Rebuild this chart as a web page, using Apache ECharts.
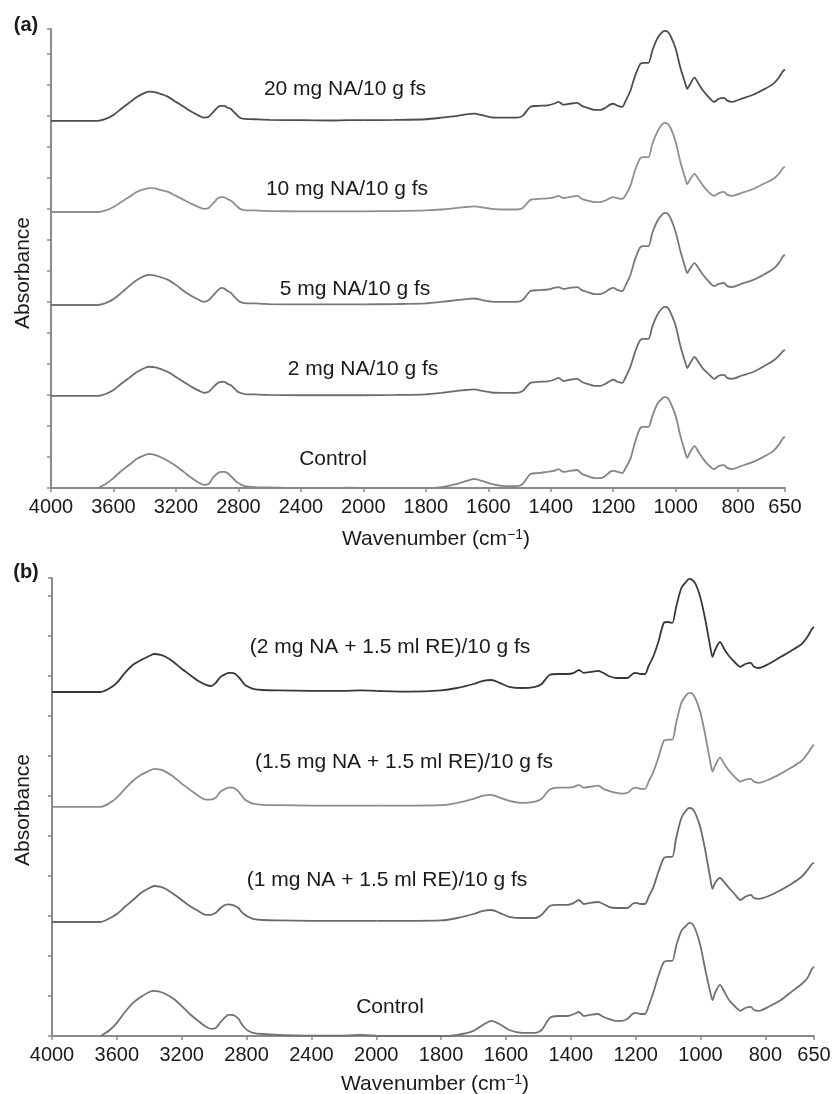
<!DOCTYPE html>
<html><head><meta charset="utf-8">
<script src="https://cdn.jsdelivr.net/npm/echarts@6/dist/echarts.min.js"></script>
<style>html,body{margin:0;padding:0;background:#fff}#c{width:833px;height:1094px}</style>
</head><body><div id="c"></div>
<script>
// ---- wavenumber grids (cm-1): high range 4000-2000, low range 2000-650 ----
const wnHigh = [4000,3700,3650,3600,3550,3500,3450,3400,3370,3330,3300,3250,3200,3150,3100,3050,3020,2990,2960,2930,2910,2890,2870,2850,2830,2810,2790,2760,2700,2600,2400,2200,2100,2000];
const wnLow = [2000,1900,1800,1750,1700,1670,1645,1620,1590,1550,1510,1490,1465,1440,1410,1390,1375,1360,1340,1315,1300,1283,1260,1241,1225,1210,1200,1185,1171,1160,1145,1130,1113,1100,1087,1075,1059,1045,1035,1025,1015,1000,985,970,963,955,940,925,912,895,877,862,845,835,820,790,752,720,688,670,656,650];

// ---- tick labels ----
const ticksHigh = [4000,3600,3200,2800,2400,2000];
const ticksLow = [2000,1800,1600,1400,1200,1000,800,650];

// ---- panel (a): absorbance (axis tick units) above each spectrum's own baseline ----
const namesA = ['20 mg NA/10 g fs','10 mg NA/10 g fs','5 mg NA/10 g fs','2 mg NA/10 g fs','Control'];
const offsetsA = [11.84, 8.90, 5.90, 2.97, 0];
const a20High = [0,0,0.06,0.19,0.39,0.58,0.77,0.90,0.94,0.92,0.87,0.77,0.61,0.45,0.29,0.16,0.10,0.13,0.29,0.45,0.48,0.48,0.42,0.39,0.29,0.19,0.10,0.06,0.05,0.03,0.02,0.01,0.02,0.02];
const a20Low = [0.02,0.03,0.05,0.10,0.16,0.21,0.23,0.18,0.11,0.10,0.10,0.16,0.45,0.48,0.50,0.55,0.61,0.52,0.55,0.58,0.48,0.42,0.35,0.35,0.42,0.52,0.55,0.48,0.45,0.65,0.97,1.45,1.84,1.87,1.87,2.26,2.65,2.84,2.90,2.87,2.71,2.32,1.71,1.23,1.03,1.16,1.39,1.16,0.97,0.77,0.61,0.71,0.74,0.65,0.61,0.71,0.84,1.00,1.19,1.39,1.61,1.65];
const a10High = [0,0,0.05,0.16,0.32,0.48,0.65,0.74,0.77,0.76,0.71,0.65,0.52,0.39,0.26,0.15,0.10,0.13,0.29,0.45,0.48,0.47,0.42,0.37,0.29,0.19,0.10,0.06,0.05,0.03,0.02,0.02,0.02,0.02];
const a10Low = [0.02,0.03,0.05,0.08,0.13,0.16,0.18,0.15,0.10,0.08,0.08,0.13,0.39,0.42,0.44,0.47,0.52,0.45,0.48,0.52,0.42,0.37,0.32,0.32,0.37,0.45,0.48,0.44,0.42,0.55,0.84,1.35,1.74,1.77,1.77,2.19,2.58,2.81,2.87,2.84,2.68,2.26,1.61,1.10,0.90,1.03,1.23,1.03,0.84,0.65,0.52,0.61,0.65,0.55,0.52,0.61,0.74,0.90,1.06,1.23,1.42,1.45];
const a5High = [0,0,0.06,0.19,0.39,0.61,0.81,0.94,0.97,0.95,0.90,0.81,0.65,0.45,0.29,0.16,0.10,0.16,0.32,0.48,0.55,0.53,0.45,0.40,0.29,0.19,0.10,0.06,0.05,0.03,0.02,0.02,0.02,0.02];
const a5Low = [0.02,0.03,0.05,0.10,0.16,0.19,0.21,0.16,0.11,0.10,0.10,0.16,0.45,0.48,0.50,0.55,0.58,0.52,0.55,0.58,0.48,0.42,0.35,0.35,0.42,0.52,0.55,0.48,0.45,0.65,0.97,1.48,1.87,1.90,1.90,2.32,2.71,2.90,2.97,2.94,2.77,2.35,1.74,1.23,1.03,1.16,1.35,1.16,0.97,0.77,0.61,0.68,0.71,0.61,0.58,0.68,0.81,0.97,1.16,1.35,1.58,1.61];
const a2High = [0,0,0.06,0.19,0.39,0.58,0.77,0.90,0.94,0.92,0.87,0.77,0.61,0.45,0.29,0.16,0.10,0.13,0.29,0.42,0.45,0.45,0.39,0.35,0.26,0.16,0.10,0.06,0.05,0.03,0.02,0.02,0.02,0.02];
const a2Low = [0.02,0.03,0.05,0.10,0.16,0.19,0.21,0.16,0.11,0.10,0.10,0.16,0.42,0.45,0.47,0.52,0.58,0.48,0.52,0.55,0.45,0.39,0.32,0.32,0.39,0.48,0.52,0.45,0.42,0.61,0.94,1.42,1.81,1.84,1.84,2.23,2.61,2.81,2.87,2.84,2.65,2.26,1.61,1.10,0.90,1.03,1.26,1.06,0.87,0.71,0.55,0.65,0.68,0.58,0.55,0.65,0.77,0.94,1.13,1.29,1.45,1.48];
const aCHigh = [null,0,0.13,0.32,0.55,0.74,0.94,1.06,1.10,1.06,1.00,0.87,0.71,0.52,0.32,0.16,0.10,0.13,0.35,0.48,0.52,0.52,0.48,0.39,0.29,0.19,0.13,0.06,0.03,0.02,0,0,0.01,0];
const aCLow = [0,0,0,0.03,0.13,0.23,0.29,0.23,0.13,0.06,0.06,0.13,0.45,0.48,0.52,0.55,0.61,0.52,0.55,0.58,0.45,0.39,0.32,0.32,0.39,0.52,0.55,0.52,0.48,0.65,0.94,1.48,1.94,1.97,1.97,2.32,2.71,2.87,2.94,2.90,2.71,2.32,1.68,1.16,0.97,1.13,1.35,1.13,0.94,0.74,0.61,0.71,0.74,0.65,0.61,0.71,0.84,1.00,1.19,1.39,1.61,1.65];

// ---- panel (b) ----
const namesB = ['(2 mg NA + 1.5 ml RE)/10 g fs','(1.5 mg NA + 1.5 ml RE)/10 g fs','(1 mg NA + 1.5 ml RE)/10 g fs','Control'];
const offsetsB = [8.60, 5.73, 2.85, 0];
const b2High = [0,0,0.08,0.23,0.48,0.68,0.80,0.90,0.95,0.93,0.88,0.75,0.58,0.43,0.28,0.18,0.15,0.23,0.38,0.45,0.48,0.48,0.45,0.38,0.28,0.18,0.13,0.08,0.05,0.04,0.03,0.03,0.04,0.03];
const b2Low = [0.03,0.01,0.04,0.10,0.20,0.28,0.30,0.23,0.13,0.10,0.13,0.20,0.43,0.45,0.45,0.48,0.55,0.48,0.50,0.53,0.48,0.40,0.35,0.35,0.35,0.45,0.48,0.45,0.45,0.65,0.90,1.25,1.73,1.75,1.73,2.13,2.60,2.75,2.83,2.80,2.70,2.35,1.80,1.13,0.88,1.05,1.25,1.05,0.90,0.75,0.63,0.70,0.73,0.63,0.60,0.70,0.88,1.03,1.20,1.38,1.58,1.63];
const b15High = [0,0,0.08,0.23,0.45,0.65,0.80,0.90,0.95,0.93,0.88,0.75,0.58,0.43,0.28,0.18,0.18,0.23,0.38,0.45,0.48,0.48,0.45,0.38,0.28,0.18,0.13,0.08,0.05,0.04,0.03,0.03,0.03,0.03];
const b15Low = [0.03,0.03,0.04,0.10,0.20,0.28,0.30,0.23,0.15,0.10,0.13,0.20,0.43,0.48,0.48,0.50,0.55,0.48,0.50,0.53,0.45,0.40,0.35,0.33,0.35,0.45,0.48,0.45,0.45,0.63,0.88,1.23,1.65,1.68,1.68,2.10,2.60,2.78,2.85,2.83,2.70,2.35,1.78,1.13,0.88,1.03,1.23,1.05,0.90,0.75,0.63,0.68,0.70,0.63,0.60,0.68,0.83,0.98,1.15,1.33,1.50,1.55];
const b1High = [0,0,0.08,0.20,0.38,0.55,0.73,0.85,0.90,0.88,0.83,0.70,0.55,0.40,0.28,0.18,0.18,0.23,0.35,0.43,0.44,0.43,0.40,0.35,0.25,0.18,0.13,0.08,0.05,0.04,0.03,0.03,0.03,0.03];
const b1Low = [0.03,0.03,0.04,0.10,0.20,0.28,0.30,0.23,0.13,0.10,0.10,0.18,0.40,0.43,0.43,0.48,0.55,0.45,0.48,0.50,0.45,0.38,0.35,0.35,0.35,0.45,0.48,0.45,0.45,0.63,0.88,1.25,1.60,1.63,1.63,2.10,2.60,2.78,2.85,2.83,2.70,2.35,1.78,1.10,0.83,0.98,1.10,0.98,0.85,0.70,0.55,0.63,0.68,0.60,0.58,0.65,0.80,0.95,1.13,1.30,1.45,1.48];
const bCHigh = [null,0,0.13,0.33,0.60,0.83,0.98,1.10,1.13,1.10,1.05,0.93,0.75,0.55,0.38,0.23,0.18,0.20,0.35,0.48,0.53,0.53,0.50,0.43,0.30,0.20,0.13,0.08,0.05,0.03,0.01,0.01,0.03,0.01];
const bCLow = [0,0,0,0.03,0.13,0.28,0.38,0.30,0.15,0.08,0.08,0.15,0.45,0.50,0.50,0.55,0.60,0.50,0.53,0.55,0.48,0.43,0.38,0.38,0.43,0.55,0.58,0.55,0.55,0.75,1.10,1.50,1.85,1.88,1.88,2.25,2.63,2.75,2.83,2.80,2.65,2.25,1.65,1.10,0.90,1.08,1.28,1.08,0.90,0.75,0.63,0.70,0.73,0.65,0.63,0.73,0.90,1.10,1.30,1.45,1.68,1.73];

const highA = [a20High, a10High, a5High, a2High, aCHigh];
const lowA = [a20Low, a10Low, a5Low, a2Low, aCLow];
const highB = [b2High, b15High, b1High, bCHigh];
const lowB = [b2Low, b15Low, b1Low, bCLow];

// ---- styling ----
const FONT = "'Liberation Sans', Arial, Helvetica, sans-serif";
const AXIS_COLOR = '#8a8a8a';
const TEXT_COLOR = '#1a1a1a';
const colorsA = ['#4d4d4d','#8f8f8f','#787878','#6c6c6c','#858585'];
const colorsB = ['#383838','#8c8c8c','#6a6a6a','#727272'];

const panels = [
  {left:51, top:29, height:459, unit:62.47, yMax:14.8, names:namesA, offs:offsetsA, high:highA, low:lowA, colors:colorsA},
  {left:52, top:578, height:458, unit:64.85, yMax:11.45, names:namesB, offs:offsetsB, high:highB, low:lowB, colors:colorsB}
];

const grid = [], xAxis = [], yAxis = [], series = [];
function pairs(wn, vals, off){
  const out = [];
  wn.forEach((w,i)=>{ if (vals[i] !== null) out.push([w, vals[i] + off]); });
  return out;
}
const plain = v => String(v);
panels.forEach((p, pi) => {
  const wHigh = 5 * p.unit, wLow = 6.75 * p.unit;
  const gi = pi * 2;
  grid.push({left:p.left, top:p.top, width:wHigh, height:p.height, containLabel:false, outerBoundsMode:'none'});
  grid.push({left:p.left + wHigh, top:p.top, width:wLow, height:p.height, containLabel:false, outerBoundsMode:'none'});
  const axLine = {show:true, onZero:false, lineStyle:{color:AXIS_COLOR, width:2}};
  const lbl = {fontSize:20, fontFamily:FONT, color:TEXT_COLOR, margin:9, formatter:plain};
  xAxis.push({gridIndex:gi, type:'value', inverse:true, min:2000, max:4000, interval:400,
    axisLine:axLine,
    axisTick:{show:true, length:4, customValues:ticksHigh, lineStyle:{color:AXIS_COLOR, width:1.5}},
    axisLabel:Object.assign({customValues:ticksHigh}, lbl), splitLine:{show:false}});
  xAxis.push({gridIndex:gi+1, type:'value', inverse:true, min:650, max:2000,
    axisLine:axLine,
    axisTick:{show:true, length:4, customValues:ticksLow, lineStyle:{color:AXIS_COLOR, width:1.5}},
    axisLabel:Object.assign({customValues:ticksLow.slice(1)}, lbl), splitLine:{show:false}});
  yAxis.push({gridIndex:gi, type:'value', min:0, max:p.yMax, interval:1,
    axisLine:{show:true, lineStyle:{color:AXIS_COLOR, width:2}},
    axisTick:{show:true, length:4, lineStyle:{color:AXIS_COLOR, width:1.5}},
    axisLabel:{show:false}, splitLine:{show:false}});
  yAxis.push({gridIndex:gi+1, type:'value', min:0, max:p.yMax, show:false, splitLine:{show:false}});
  p.names.forEach((nm, k) => {
    const common = {type:'line', name:nm, showSymbol:false, symbol:'none', smooth:0.25, silent:true,
      lineStyle:{color:p.colors[k], width:1.8}, itemStyle:{color:p.colors[k]}, z:3};
    series.push(Object.assign({xAxisIndex:gi, yAxisIndex:gi, data:pairs(wnHigh, p.high[k], p.offs[k])}, common));
    series.push(Object.assign({xAxisIndex:gi+1, yAxisIndex:gi+1, data:pairs(wnLow, p.low[k], p.offs[k])}, common));
  });
});

function txt(text, x, y, extra){
  return Object.assign({type:'text', x:x, y:y, silent:true,
    style:Object.assign({text:text, font:'21px ' + FONT, fill:TEXT_COLOR,
      align:'center', verticalAlign:'middle', textAlign:'center', textVerticalAlign:'middle'}, (extra||{}).style||{})},
    (extra||{}).el||{});
}
function wavTitle(x, y){
  return {type:'text', x:x, y:y, silent:true, style:{
    text:'Wavenumber (cm{sup|\u22121})', font:'21px ' + FONT, fill:TEXT_COLOR,
    align:'center', verticalAlign:'middle', textAlign:'center', textVerticalAlign:'middle',
    rich:{sup:{fontSize:14, fontFamily:FONT, fill:TEXT_COLOR, verticalAlign:'top', lineHeight:12}}
  }};
}
const labelPos = [
  [345,89],[347,189],[355,289],[363,369],[333,459],
  [390,647],[404,762],[387,880],[390,1007]
];
const allNames = namesA.concat(namesB);
const graphic = allNames.map((nm, i) => txt(nm, labelPos[i][0], labelPos[i][1]));
graphic.push(txt('(a)', 26, 25, {style:{font:'bold 20px ' + FONT}}));
graphic.push(txt('(b)', 26, 572, {style:{font:'bold 20px ' + FONT}}));
graphic.push(txt('Absorbance', 23, 273, {el:{rotation:Math.PI/2}}));
graphic.push(txt('Absorbance', 23, 810, {el:{rotation:Math.PI/2}}));
graphic.push(wavTitle(436, 539));
graphic.push(wavTitle(435, 1084));

const chart = echarts.init(document.getElementById('c'), null, {renderer:'canvas'});
chart.setOption({
  animation:false,
  backgroundColor:'#ffffff',
  textStyle:{fontFamily:FONT},
  grid:grid, xAxis:xAxis, yAxis:yAxis, series:series, graphic:graphic
});
</script>
</body></html>
